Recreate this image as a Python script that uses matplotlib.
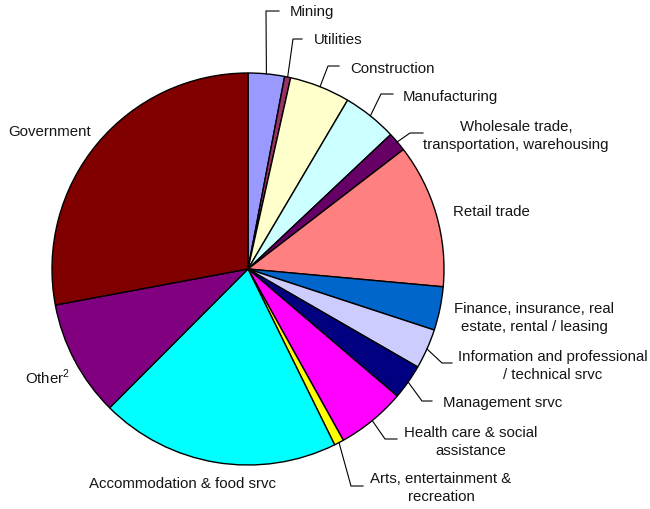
import numpy as np
from matplotlib import pyplot as plt

plt.rcParams['font.family'] = ['Liberation Sans', 'DejaVu Sans']
plt.rcParams['mathtext.fontset'] = 'custom'
plt.rcParams['mathtext.rm'] = 'Liberation Sans'

# 行业占比（%），顺时针自12点方向开始
sectors = ["Mining", "Utilities", "Construction", "Manufacturing",
           "Wholesale trade,\ntransportation, warehousing", "Retail trade",
           "Finance, insurance, real\nestate, rental / leasing",
           "Information and professional\n/ technical srvc", "Management srvc",
           "Health care & social\nassistance", "Arts, entertainment &\nrecreation",
           "Accommodation & food srvc", r"Other$^{\mathregular{2}}$", "Government"]
shares = [3.0, 0.5, 5.0, 4.5, 1.6, 11.9, 3.6, 3.3, 2.9, 5.7, 0.8, 19.8, 9.6, 28.0]
colors = ["#9999FF", "#993366", "#FFFFCC", "#CCFFFF", "#660066", "#FF8080", "#0066CC",
          "#CCCCFF", "#000080", "#FF00FF", "#FFFF00", "#00FFFF", "#800080", "#800000"]

W, H = 650, 510
cx, cy, R = 248, 270, 196


def py(y):
    # 像素坐标（y向下）转为数据坐标
    return H - y


# 标签位置：(x, y, ha, 引线折点列表)
label_pos = [
    (290, 12, "left", [(266, 12), (279, 12)]),
    (314, 40, "left", [(293, 40), (302, 40)]),
    (350, 69, "left", [(328, 67), (339, 67)]),
    (403, 97, "left", [(381, 95), (393, 95)]),
    (516, 136, "center", [(410, 134), (423, 134)]),
    (491, 212, "center", None),
    (534, 318, "center", None),
    (553, 366, "center", [(442, 364), (452, 364)]),
    (443, 403, "left", [(422, 402), (432, 402)]),
    (471, 442, "center", [(385, 440), (397, 440)]),
    (441, 488, "center", [(351, 487), (363, 487)]),
    (182, 484, "center", None),
    (48, 377, "center", None),
    (50, 132, "center", None),
]

fig = plt.figure(figsize=(W / 100, H / 100), dpi=100)
ax = fig.add_axes([0, 0, 1, 1])

wedges, _ = ax.pie(shares, colors=colors, startangle=90, counterclock=False,
                   center=(cx, py(cy)), radius=R, frame=True,
                   wedgeprops=dict(edgecolor="black", linewidth=1.0))
ax.set_xlim(0, W)
ax.set_ylim(0, H)
ax.set_aspect('equal')
ax.axis('off')

for w, name, (lx, ly, ha, leader) in zip(wedges, sectors, label_pos):
    if leader is not None:
        mid = np.deg2rad((w.theta1 + w.theta2) / 2)
        xs = [cx + R * np.cos(mid)] + [p[0] for p in leader]
        ys = [py(cy) + R * np.sin(mid)] + [py(p[1]) for p in leader]
        ax.plot(xs, ys, color="black", linewidth=0.8)
    ax.text(lx, py(ly), name, ha=ha, va="center", fontsize=10.8,
            color="#151515", linespacing=1.4, multialignment="center")

plt.savefig("out.png", dpi=100)
plt.close()
